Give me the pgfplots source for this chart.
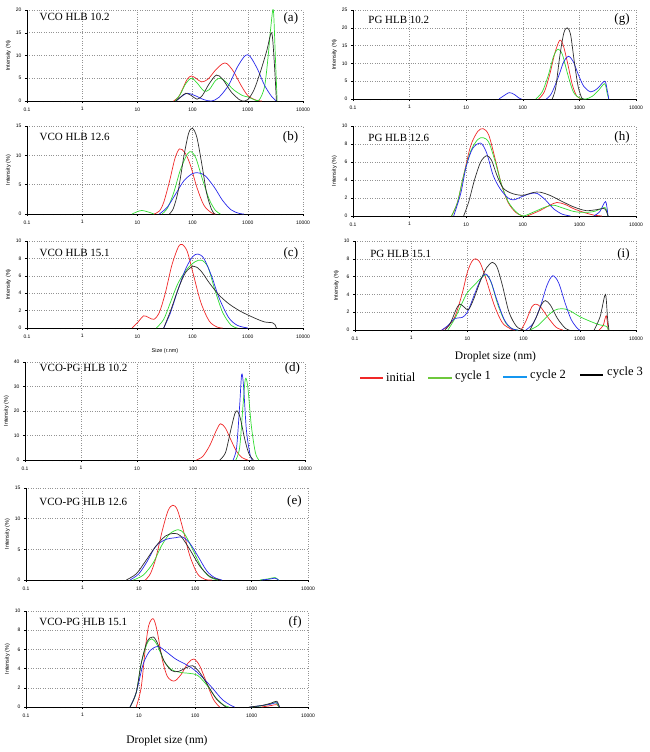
\documentclass[border=0pt]{standalone}
\usepackage{pgfplots}
\pgfplotsset{compat=1.18}
\usepackage{fontspec}
\setmainfont{Liberation Serif}
\newfontfamily\tickfont{Liberation Sans}
\definecolor{cR}{RGB}{240,40,40}
\definecolor{cG}{RGB}{50,220,50}
\definecolor{cB}{RGB}{40,40,235}
\definecolor{cK}{RGB}{45,45,45}
\definecolor{lG}{RGB}{110,200,60}
\definecolor{lB}{RGB}{20,150,240}
\pgfplotsset{
  every axis/.append style={xmin=0.1, xmax=10000, ymin=0, scale only axis, anchor=north west,
    axis x line*=bottom, axis y line*=left,
    axis line style={black, line width=0.6pt},
    grid=major, grid style={dotted, gray!85, line width=0.5pt},
    log ticks with fixed point,
    tick label style={font=\tickfont\fontsize{5}{6}\selectfont},
    xticklabel style={yshift=-1pt},
    ylabel={Intensity (\%)},
    ylabel style={font=\tickfont\fontsize{5.5}{6}\selectfont, yshift=-2pt},
    tick align=outside, major tick length=2pt, minor tick length=1.2pt,
    tick style={black, line width=0.4pt}},
  every axis plot/.append style={line width=0.7pt, smooth, mark=none},
}
\pgfkeys{/pgf/number format/1000 sep={}, /pgf/number format/assume math mode=true}
\tikzset{
  ttl/.style={anchor=west, font=\fontsize{11}{12}\selectfont},
  lbl/.style={anchor=east, font=\fontsize{13}{14}\selectfont},
  leg/.style={anchor=west, font=\fontsize{12.5}{13}\selectfont, inner sep=1pt},
}
\begin{document}
\begin{tikzpicture}
\useasboundingbox (0pt,0pt) rectangle (650pt,-752pt);

% (a)
\begin{semilogxaxis}[at={(27pt,-10pt)}, width=276pt, height=91pt, ymax=20, ytick={0,5,10,15,20}]
\addplot[cR] coordinates {(45,0)(55,0.8)(65,2.5)(80,4.8)(95,5.5)(115,5)(145,4.2)(190,4.8)(260,6.8)(350,8.2)(420,8.2)(550,6.5)(750,3.5)(1000,1.2)(1400,0.2)(1800,0)};
\addplot[cG] coordinates {(48,0)(60,1.5)(75,3.8)(95,5)(120,4)(160,2.2)(200,2.5)(260,4.5)(320,5)(400,4.2)(550,2.5)(800,1.2)(1000,0.9)(1300,0.3)(1600,0.2)(2000,3)(2300,9)(2600,16)(2900,20)(3150,10)(3400,0)};
\addplot[cB] coordinates {(50,0)(60,0.8)(80,1.7)(110,1.2)(160,0.3)(220,0)(300,0.8)(450,3.5)(650,7.5)(900,10)(1100,9.8)(1500,7)(2000,3.5)(2700,1)(3300,0)};
\addplot[cK] coordinates {(50,0)(60,0.8)(75,1.7)(95,1.2)(120,0.4)(150,1.2)(200,3.8)(270,5.7)(350,4.8)(500,2)(700,0.3)(800,0)(1000,0.3)(1300,2.5)(1700,6.5)(2200,11)(2700,15)(3000,9)(3300,0)};
\node[ttl] at (rel axis cs:0.033,0.92) {VCO HLB 10.2};
\node[lbl] at (rel axis cs:0.995,0.91) {(a)};
\end{semilogxaxis}

% (b)
\begin{semilogxaxis}[at={(27pt,-126pt)}, width=276pt, height=88pt, ymax=15, ytick={0,5,10,15}]
\addplot[cR] coordinates {(20,0)(25,0.5)(30,2)(38,5.5)(48,9.5)(58,11.1)(72,10.5)(90,8.5)(120,4.5)(160,1.5)(220,0.2)(260,0)};
\addplot[cG] coordinates {(8,0)(10,0.4)(12,0.6)(15,0.4)(20,0)};
\addplot[cG] coordinates {(28,0)(35,1)(45,3.5)(60,7.5)(80,10.2)(95,10.6)(115,9.5)(150,6)(200,2.5)(260,0.6)(320,0)};
\addplot[cB] coordinates {(25,0)(35,1.2)(50,3.5)(70,5.7)(100,6.9)(130,7)(170,6.5)(250,4.5)(350,2.3)(500,0.7)(700,0.1)(850,0)};
\addplot[cK] coordinates {(38,0)(45,1)(55,4)(70,10)(85,13.8)(100,14.6)(120,13)(150,8)(180,3.5)(220,0.8)(250,0)};
\node[ttl] at (rel axis cs:0.033,0.875) {VCO HLB 12.6};
\node[lbl] at (rel axis cs:0.995,0.875) {(b)};
\end{semilogxaxis}

% (c)
\begin{semilogxaxis}[at={(27pt,-241pt)}, width=276pt, height=87pt, ymax=10, ytick={0,2,4,6,8,10},
  xlabel={Size (r.nm)}, xlabel style={font=\tickfont\fontsize{5.5}{6}\selectfont, yshift=-4pt}]
\addplot[cR] coordinates {(8,0)(10,0.6)(13,1.4)(16,1.2)(20,1)(25,1.8)(32,4)(42,7.2)(55,9.3)(65,9.6)(80,8.8)(100,6.5)(140,3)(200,0.8)(280,0.1)(350,0)};
\addplot[cG] coordinates {(22,0)(30,1)(40,3)(55,5.2)(80,6.8)(110,7.6)(145,7.8)(190,7)(250,4.5)(350,1.8)(500,0.3)(650,0)};
\addplot[cB] coordinates {(30,0)(40,1.8)(55,4.5)(75,6.8)(100,8.2)(125,8.5)(160,8)(220,6)(300,3.5)(450,1.2)(650,0.3)(1000,0)};
\addplot[cK] coordinates {(30,0)(40,2)(55,4.5)(75,6.4)(105,7.1)(140,6.6)(200,5.2)(300,3.8)(450,2.8)(700,2)(1000,1.5)(1500,1)(2000,0.7)(2800,0.6)(3100,0.4)(3300,0)};
\node[ttl] at (rel axis cs:0.033,0.86) {VCO HLB 15.1};
\node[lbl] at (rel axis cs:0.995,0.86) {(c)};
\end{semilogxaxis}

% (d)
\begin{semilogxaxis}[at={(25pt,-362pt)}, width=280pt, height=98pt, ymax=40, ytick={0,10,20,30,40}]
\addplot[cR] coordinates {(115,0)(150,1.5)(200,6)(260,12)(310,14.8)(380,13)(480,8)(600,3.5)(750,1)(950,0)};
\addplot[cG] coordinates {(580,0)(680,5)(780,22)(860,33)(950,30)(1100,14)(1300,3)(1500,0)};
\addplot[cB] coordinates {(520,0)(600,5)(680,22)(740,35)(800,30)(900,12)(1050,2)(1150,0)};
\addplot[cK] coordinates {(300,0)(380,3)(470,12)(560,19)(620,20)(700,17)(850,8)(1000,2.5)(1200,0)};
\node[ttl] at (rel axis cs:0.04,0.94) {VCO-PG HLB 10.2};
\node[lbl] at (rel axis cs:0.995,0.94) {(d)};
\end{semilogxaxis}

% (e)
\begin{semilogxaxis}[at={(26pt,-488pt)}, width=282pt, height=92pt, ymax=15, ytick={0,5,10,15}]
\addplot[cR] coordinates {(13,0)(16,1)(20,3.5)(26,8)(33,11.3)(40,12.2)(48,11.5)(60,8.5)(80,4)(110,1)(150,0.1)(200,0)};
\addplot[cG] coordinates {(8,0)(12,0.8)(18,2.8)(25,5.5)(35,7.5)(50,8.2)(65,7.5)(90,5)(130,2)(180,0.5)(250,0)};
\addplot[cG] coordinates {(1400,0)(2000,0.2)(2600,0.4)(3000,0)};
\addplot[cB] coordinates {(7,0)(10,1)(14,3)(20,5.5)(30,6.6)(45,6.9)(60,7)(80,6)(110,4)(160,1.5)(220,0.4)(300,0)};
\addplot[cB] coordinates {(1500,0)(2100,0.15)(2600,0.3)(3000,0)};
\addplot[cK] coordinates {(6,0)(9,1)(13,3)(20,5.5)(30,7.2)(42,7.6)(55,7.2)(80,5)(120,2.3)(180,0.6)(280,0)};
\node[ttl] at (rel axis cs:0.035,0.85) {VCO-PG HLB 12.6};
\node[lbl] at (rel axis cs:0.99,0.85) {(e)};
\end{semilogxaxis}

% (f)
\begin{semilogxaxis}[at={(26pt,-611pt)}, width=282pt, height=96pt, ymax=10, ytick={0,2,4,6,8,10},
  xlabel={Droplet size (nm)}, xlabel style={font=\fontsize{11.5}{12}\selectfont, yshift=-12pt}]
\addplot[cR] coordinates {(9,0)(11,2)(13,6)(15,8.5)(18,9.2)(21,8)(26,5)(32,3.2)(42,2.7)(55,3.3)(75,4.6)(95,5)(120,4.3)(160,2.5)(210,0.8)(270,0)};
\addplot[cR] coordinates {(1500,0)(2200,0.15)(2800,0.25)(3100,0)};
\addplot[cG] coordinates {(7,0)(9,1.5)(11,4.5)(14,6.6)(17,7.1)(21,6.5)(28,4.8)(38,3.9)(55,3.6)(80,3.5)(110,3.3)(160,2.3)(230,1)(320,0.2)(400,0)};
\addplot[cG] coordinates {(1000,0)(1600,0.15)(2200,0.35)(2700,0.45)(3050,0)};
\addplot[cB] coordinates {(7,0)(9,1.5)(12,4.5)(16,5.9)(22,6.3)(30,5.8)(45,5)(70,4.4)(100,3.8)(150,2.8)(200,2)(300,0.8)(420,0.2)(500,0)};
\addplot[cB] coordinates {(950,0)(1500,0.15)(2200,0.3)(2800,0.45)(3150,0)};
\addplot[cK] coordinates {(7,0)(9,1.5)(11,4.5)(14,6.8)(18,7.3)(22,6.5)(28,4.8)(38,3.8)(50,3.7)(70,4.1)(90,4.3)(120,3.6)(170,2.2)(240,0.8)(350,0)};
\addplot[cK] coordinates {(900,0)(1500,0.15)(2200,0.4)(2800,0.6)(3100,0)};
\node[ttl] at (rel axis cs:0.035,0.885) {VCO-PG HLB 15.1};
\node[lbl] at (rel axis cs:0.99,0.885) {(f)};
\end{semilogxaxis}

% (g)
\begin{semilogxaxis}[at={(353pt,-10pt)}, width=283pt, height=89pt, ymax=25, ytick={0,5,10,15,20,25}]
\addplot[cR] coordinates {(190,0)(240,2)(300,7)(370,13)(450,16.5)(520,15)(620,10)(750,4)(900,0.8)(1100,0)};
\addplot[cG] coordinates {(170,0)(220,2)(280,6.5)(350,12)(420,14)(500,12.5)(620,7)(780,2)(1000,0.3)(1300,0)(1700,0.8)(2200,2.5)(2800,4.3)(3100,1.5)(3300,0)};
\addplot[cB] coordinates {(38,0)(45,0.8)(58,1.8)(72,1.2)(85,0.3)(95,0)};
\addplot[cB] coordinates {(260,0)(320,1.5)(420,6)(530,10.5)(640,12)(780,10.5)(950,7)(1200,3.5)(1600,2)(2100,3)(2800,5)(3100,2.5)(3300,0)};
\addplot[cK] coordinates {(330,0)(380,3)(450,12)(530,18.5)(610,20)(700,18)(820,10)(950,3.5)(1100,0.3)(1200,0)};
\node[ttl] at (rel axis cs:0.042,0.89) {PG HLB 10.2};
\node[lbl] at (rel axis cs:0.99,0.89) {(g)};
\end{semilogxaxis}

% (h)
\begin{semilogxaxis}[at={(353pt,-126pt)}, width=283pt, height=90pt, ymax=10, ytick={0,2,4,6,8,10}]
\addplot[cR] coordinates {(5.5,0)(7,1.5)(9,4.5)(12,7.8)(16,9.4)(20,9.7)(25,9)(32,6.5)(42,3.5)(55,1.5)(75,0.4)(100,0)};
\addplot[cR] coordinates {(120,0)(200,0.6)(300,1.2)(400,1.5)(550,1.3)(800,0.8)(1200,0.4)(1800,0.1)(2500,0)};
\addplot[cG] coordinates {(5.5,0)(7,1.5)(9,4.5)(12,7.2)(16,8.5)(20,8.7)(25,8.2)(32,6.2)(42,3.5)(55,1.6)(75,0.5)(100,0)(150,0.4)(250,1)(350,1.2)(500,0.9)(800,0.5)(1200,0.4)(1800,0.5)(2500,0.85)(2900,0.9)(3200,0)};
\addplot[cB] coordinates {(6,0)(8,2.5)(10,5.5)(13,7.5)(18,8.1)(23,7)(30,4.5)(40,3)(55,2)(70,1.8)(100,2.2)(140,2.5)(180,2.5)(250,1.8)(350,0.8)(500,0.2)(700,0)};
\addplot[cB] coordinates {(1800,0)(2300,0.5)(2900,1.6)(3200,0)};
\addplot[cK] coordinates {(9,0)(11,1.5)(14,4)(18,6)(23,6.7)(28,6.2)(35,4.5)(45,3.1)(65,2.5)(100,2.3)(150,2.6)(200,2.65)(300,2.3)(500,1.6)(800,1)(1300,0.6)(2000,0.7)(2800,0.8)(3200,0)};
\node[ttl] at (rel axis cs:0.042,0.87) {PG HLB 12.6};
\node[lbl] at (rel axis cs:0.99,0.87) {(h)};
\end{semilogxaxis}

% (i)
\begin{semilogxaxis}[at={(355pt,-241pt)}, width=281pt, height=89pt, ymax=10, ytick={0,2,4,6,8,10},
  xlabel={Droplet size (nm)}, xlabel style={font=\fontsize{11.5}{12}\selectfont, yshift=-5pt}]
\addplot[cR] coordinates {(3.5,0)(4.5,0.4)(6,1.5)(8,4)(10,6.5)(12,7.7)(14,8)(17,7.5)(22,5.5)(30,2.8)(42,0.8)(60,0.1)(70,0)};
\addplot[cR] coordinates {(90,0)(110,1)(140,2.6)(165,2.9)(200,2.6)(280,1.3)(380,0.3)(500,0)};
\addplot[cR] coordinates {(2200,0)(2600,0.5)(2950,1.6)(3200,0)};
\addplot[cG] coordinates {(4.5,0)(6,1.3)(8,3)(10,4.2)(14,5.2)(18,5.9)(22,6.2)(27,5.2)(35,2.8)(48,0.8)(65,0.1)(80,0)};
\addplot[cG] coordinates {(130,0)(180,0.5)(250,1.4)(350,2.2)(480,2.4)(650,2.2)(1000,1.5)(1500,1)(2200,0.6)(3000,0.4)(3200,0)};
\addplot[cB] coordinates {(3.5,0)(4.5,0.5)(6,1.3)(8,1.4)(10,2)(13,3.8)(17,5.6)(21,6.3)(26,5.5)(33,3.5)(45,1.2)(60,0.2)(80,0)};
\addplot[cB] coordinates {(110,0)(150,0.8)(200,2.7)(260,5)(330,6.1)(420,5.3)(550,3)(700,1.2)(900,0.2)(1000,0)};
\addplot[cK] coordinates {(4,0)(5,0.8)(6.5,2.5)(7.5,2.9)(9,2.5)(10.5,2.3)(13,3.5)(17,5.5)(22,7)(28,7.6)(34,7)(42,5)(55,2)(75,0.4)(100,0)};
\addplot[cK] coordinates {(130,0)(170,1.5)(210,2.9)(245,3.3)(300,2.8)(400,1.3)(550,0.2)(650,0)};
\addplot[cK] coordinates {(1800,0)(2300,1.5)(2850,4)(3100,1.5)(3300,0)};
\node[ttl] at (rel axis cs:0.042,0.85) {PG HLB 15.1};
\node[lbl] at (rel axis cs:0.99,0.85) {(i)};
\end{semilogxaxis}

% legend
\draw[cR, line width=1.4pt] (360pt,-378pt) -- (383pt,-378pt);
\node[leg] at (385pt,-377pt) {initial};
\draw[lG, line width=1.4pt] (428pt,-378pt) -- (452pt,-378pt);
\node[leg] at (454pt,-377pt) {cycle 1};
\draw[lB, line width=1.4pt] (503pt,-377pt) -- (527pt,-377pt);
\node[leg] at (529pt,-376pt) {cycle 2};
\draw[black, line width=1.4pt] (580pt,-375pt) -- (603pt,-375pt);
\node[leg] at (606pt,-373pt) {cycle 3};
\end{tikzpicture}
\end{document}
